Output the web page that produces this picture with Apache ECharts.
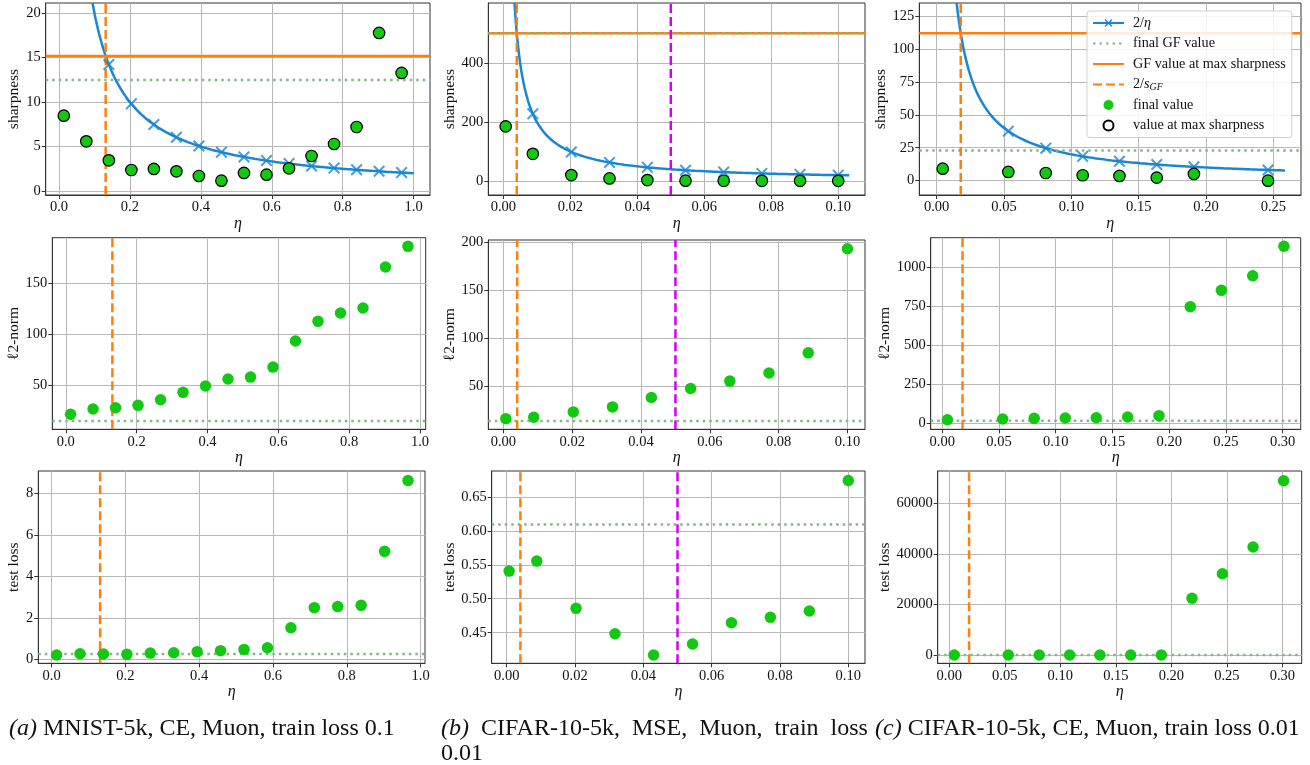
<!DOCTYPE html>
<html>
<head>
<meta charset="utf-8">
<script src="https://cdn.jsdelivr.net/npm/echarts@6/dist/echarts.min.js"></script>
<style>
  html, body { margin: 0; padding: 0; background: #fff; }
  #chart { width: 1310px; height: 765px; }
</style>
</head>
<body>
<div id="chart"></div>
<script>
// (a) MNIST-5k, CE
const etaA = [0.0135, 0.077, 0.1405, 0.204, 0.2675, 0.331, 0.3945, 0.458, 0.5215, 0.585, 0.6485, 0.712, 0.7755, 0.839, 0.9025, 0.966];
const sharpA = [8.47, 5.59, 3.45, 2.36, 2.48, 2.21, 1.69, 1.16, 2.03, 1.84, 2.55, 3.94, 5.29, 7.2, 17.78, 13.28];
const normA = [21.6, 26.8, 28.0, 30.4, 35.9, 43.1, 49.3, 56.2, 58.1, 67.9, 93.4, 112.7, 120.9, 125.8, 166, 186.2];
const testA = [0.21, 0.27, 0.26, 0.24, 0.3, 0.32, 0.37, 0.42, 0.48, 0.56, 1.52, 2.49, 2.54, 2.6, 5.2, 8.61];
const gfSharpMaxA = 15.2, gfSharpFinalA = 12.5, gfNormA = 15.0, gfTestA = 0.26;

// (b) CIFAR-10-5k, MSE
const etaB = [0.0007, 0.0088, 0.0203, 0.0317, 0.043, 0.0544, 0.0658, 0.0772, 0.0886, 0.1];
const sharpB = [185, 92.3, 20.3, 9.1, 3.4, 1.5, 1.2, 1.0, 0.8, 1.0];
const normB = [15.6, 17.1, 22.7, 27.9, 37.7, 47.2, 54.9, 63.4, 84.4, 193.3];
const testB = [0.5407, 0.5554, 0.4859, 0.4485, 0.4172, 0.4334, 0.4647, 0.4726, 0.4819, 0.6741];
const gfSharpMaxB = 500, gfSharpFinalB = 500, gfNormB = 13.2, gfTestB = 0.6094;
const etaMagentaB = 0.05;

// (c) CIFAR-10-5k, CE
const etaC = [0.0045, 0.0532, 0.081, 0.1084, 0.1357, 0.1634, 0.191, 0.2186, 0.246, 0.2736, 0.3011];
const sharpC = [9.1, 6.6, 5.8, 4.1, 3.6, 2.3, 5.1, null, 0.0, null, null];
const normC = [21, 25.7, 30, 32, 34, 38.5, 47, 747, 852, 946, 1135];
const testC = [2.1, 1.9, 2.0, 2.2, 2.3, 2.5, 2.8, 22430, 32160, 42720, 68950];
const gfSharpMaxC = 112, gfSharpFinalC = 22.8, gfNormC = 15, gfTestC = 2.0;

// tick labels
const ticksEtaA = [0, 0.2, 0.4, 0.6, 0.8, 1.0];
const ticksEtaB = [0, 0.02, 0.04, 0.06, 0.08, 0.10];
const ticksEtaCtop = [0, 0.05, 0.10, 0.15, 0.20, 0.25];
const ticksEtaC = [0, 0.05, 0.10, 0.15, 0.20, 0.25, 0.30];
const ticksSharpA = [0, 5, 10, 15, 20];
const ticksSharpB = [0, 200, 400];
const ticksSharpC = [0, 25, 50, 75, 100, 125];
const ticksNormA = [50, 100, 150];
const ticksNormB = [50, 100, 150, 200];
const ticksNormC = [0, 250, 500, 750, 1000];
const ticksTestA = [0, 2, 4, 6, 8];
const ticksTestB = [0.45, 0.50, 0.55, 0.60, 0.65];
const ticksTestC = [0, 20000, 40000, 60000];

const FONT = 'Liberation Serif';
const BLUE = '#1a86d2', ORANGE = '#ff7f0e', GREEN = '#12c812', GFGREEN = '#82b882', MAGENTA = '#d400f6';
const XMARK = 'path://M0,1.2L1.2,0L5,3.8L8.8,0L10,1.2L6.2,5L10,8.8L8.8,10L5,6.2L1.2,10L0,8.8L3.8,5Z';

const grids = [], xAxes = [], yAxes = [], series = [];

function axis(min, max, ticks, dec, extra) {
  return Object.assign({
    type: 'value', min: min, max: max,
    axisLine: { show: true, onZero: false, lineStyle: { color: '#333', width: 1 } },
    axisTick: { show: true, customValues: ticks, length: 4, lineStyle: { color: '#333' } },
    axisLabel: { customValues: ticks, formatter: v => v.toFixed(dec), fontFamily: FONT, fontSize: 14.5, color: '#111', margin: 5 },
    splitLine: { show: true, lineStyle: { color: '#b8b8b8', width: 1 } }
  }, extra);
}

function panel(box, xr, xt, xd, yr, yt, yd, yname, ynameGap, xnameGap) {
  const i = grids.length;
  grids.push({ left: box[0], top: box[1], width: box[2], height: box[3], show: true, borderColor: '#333', borderWidth: 1, backgroundColor: '#fff' });
  xAxes.push(axis(xr[0], xr[1], xt, xd, {
    gridIndex: i, name: 'η', nameLocation: 'middle', nameGap: xnameGap,
    nameTextStyle: { fontFamily: FONT, fontSize: 16, fontStyle: 'italic', color: '#111' }
  }));
  yAxes.push(axis(yr[0], yr[1], yt, yd, {
    gridIndex: i, name: yname, nameLocation: 'middle', nameGap: ynameGap, nameRotate: 90,
    nameTextStyle: { fontFamily: FONT, fontSize: 15.5, color: '#111' }
  }));
  return { i: i, xr: xr, yr: yr };
}

function base(p, name, z) {
  return { name: name, xAxisIndex: p.i, yAxisIndex: p.i, animation: false, silent: true, z: z };
}

function hline(p, y, name, color, dash) {
  series.push(Object.assign(base(p, name, 3), {
    type: 'line', symbol: 'none', data: [[p.xr[0], y], [p.xr[1], y]],
    lineStyle: { color: color, width: 2.5, type: dash, cap: 'butt' }, itemStyle: { color: color }
  }));
}

function vline(p, x, name, color) {
  series.push(Object.assign(base(p, name, 4), {
    type: 'line', symbol: 'none', data: [[x, p.yr[0]], [x, p.yr[1]]],
    lineStyle: { color: color, width: 2.5, type: [9, 4], cap: 'butt' }, itemStyle: { color: color }
  }));
}

function dots(p, eta, vals, edge) {
  const pts = [];
  eta.forEach((e, k) => { if (vals[k] !== null) pts.push([e, vals[k]]); });
  series.push(Object.assign(base(p, 'final value', 6), {
    type: 'scatter', symbol: 'circle', symbolSize: 11.5, data: pts, itemStyle: { color: GREEN, opacity: 1 }
  }));
  if (edge) {
    series.push(Object.assign(base(p, 'value at max sharpness', 7), {
      type: 'scatter', symbol: 'circle', symbolSize: 11.5, data: pts,
      itemStyle: { color: 'rgba(0,0,0,0)', borderColor: '#000', borderWidth: 1.2, opacity: 1 }
    }));
  }
}

// 2/eta reference curve and its markers at the run step sizes
function twoOverEta(p, eta, vals, xEnd) {
  const x0 = 2 / p.yr[1];
  const pts = [];
  for (let k = 0; k <= 300; k++) {
    const x = x0 + (xEnd - x0) * k / 300;
    pts.push([x, 2 / x]);
  }
  series.push(Object.assign(base(p, '2/η', 2), {
    type: 'line', data: pts, showSymbol: false, symbol: XMARK, symbolSize: 9,
    lineStyle: { color: BLUE, width: 2.5 }, itemStyle: { color: BLUE }
  }));
  const marks = [];
  eta.forEach((e, k) => { if (vals[k] !== null) marks.push([e, 2 / e]); });
  series.push(Object.assign(base(p, '2/η marks', 5), {
    type: 'scatter', symbol: XMARK, symbolSize: 12, data: marks, itemStyle: { color: BLUE }
  }));
}

// top row: sharpness
let p = panel([45.7, 3, 384.3, 192], [-0.0375, 1.046], ticksEtaA, 1, [-0.45, 21.15], ticksSharpA, 0, 'sharpness', 23, 19);
twoOverEta(p, etaA, sharpA, 1.0);
hline(p, gfSharpFinalA, 'final GF value', GFGREEN, [2.5, 4]);
hline(p, gfSharpMaxA, 'GF value at max sharpness', ORANGE, 'solid');
vline(p, 2 / gfSharpMaxA, '2/s_GF', ORANGE);
dots(p, etaA, sharpA, true);

p = panel([488.3, 3, 376.7, 192], [-0.0045, 0.108], ticksEtaB, 2, [-47, 602], ticksSharpB, 0, 'sharpness', 27, 19);
twoOverEta(p, etaB, sharpB, 0.1033);
hline(p, gfSharpMaxB, 'GF value at max sharpness', ORANGE, 'solid');
hline(p, gfSharpFinalB, 'final GF value', GFGREEN, [2.5, 4]);
vline(p, 2 / gfSharpMaxB, '2/s_GF', ORANGE);
vline(p, etaMagentaB, 'η magenta', MAGENTA);
dots(p, etaB, sharpB, true);

p = panel([919.3, 3, 381.7, 192], [-0.0129, 0.2705], ticksEtaCtop, 2, [-10.9, 134.9], ticksSharpC, 0, 'sharpness', 27, 19);
twoOverEta(p, etaC, sharpC, 0.2586);
hline(p, gfSharpFinalC, 'final GF value', GFGREEN, [2.5, 4]);
hline(p, gfSharpMaxC, 'GF value at max sharpness', ORANGE, 'solid');
vline(p, 2 / gfSharpMaxC, '2/s_GF', ORANGE);
dots(p, etaC, sharpC, true);

// middle row: l2-norm
p = panel([52.3, 237.7, 373.4, 191.6], [-0.038, 1.016], ticksEtaA, 1, [6.9, 194.7], ticksNormA, 0, 'ℓ2-norm', 30, 17);
hline(p, gfNormA, 'final GF value', GFGREEN, [2.5, 4]);
vline(p, 2 / gfSharpMaxA, '2/s_GF', ORANGE);
dots(p, etaA, normA, false);

p = panel([488.3, 240, 376.7, 189.3], [-0.0044, 0.1051], ticksEtaB, 2, [4.5, 202.4], ticksNormB, 0, 'ℓ2-norm', 27, 17);
hline(p, gfNormB, 'final GF value', GFGREEN, [2.5, 4]);
vline(p, 2 / gfSharpMaxB, '2/s_GF', ORANGE);
vline(p, etaMagentaB, 'η magenta', MAGENTA);
dots(p, etaB, normB, false);

p = panel([930.7, 237.7, 370, 191.6], [-0.0102, 0.3159], ticksEtaC, 2, [-40.5, 1190], ticksNormC, 0, 'ℓ2-norm', 34, 17);
hline(p, gfNormC, 'final GF value', GFGREEN, [2.5, 4]);
vline(p, 2 / gfSharpMaxC, '2/s_GF', ORANGE);
dots(p, etaC, normC, false);

// bottom row: test loss
p = panel([38.3, 471, 386.7, 192.3], [-0.036, 1.012], ticksEtaA, 1, [-0.19, 9.07], ticksTestA, 0, 'test loss', 16, 20);
hline(p, gfTestA, 'final GF value', GFGREEN, [2.5, 4]);
vline(p, 2 / gfSharpMaxA, '2/s_GF', ORANGE);
dots(p, etaA, testA, false);

p = panel([491.7, 471, 373.3, 192.3], [-0.0044, 0.1049], ticksEtaB, 2, [0.405, 0.688], ticksTestB, 2, 'test loss', 34, 20);
hline(p, gfTestB, 'final GF value', GFGREEN, [2.5, 4]);
vline(p, 2 / gfSharpMaxB, '2/s_GF', ORANGE);
vline(p, etaMagentaB, 'η magenta', MAGENTA);
dots(p, etaB, testB, false);

p = panel([937.7, 471, 364, 192.3], [-0.0104, 0.3174], ticksEtaC, 2, [-3283, 72786], ticksTestC, 0, 'test loss', 42, 20);
hline(p, gfTestC, 'final GF value', GFGREEN, [2.5, 4]);
vline(p, 2 / gfSharpMaxC, '2/s_GF', ORANGE);
dots(p, etaC, testC, false);

const capStyle = { fontFamily: FONT, fontSize: 24, fill: '#111', rich: { i: { fontFamily: FONT, fontSize: 24, fontStyle: 'italic' } } };
const noMark = { opacity: 0 };

const option = {
  backgroundColor: '#fff',
  animation: false,
  grid: grids,
  xAxis: xAxes,
  yAxis: yAxes,
  series: series,
  legend: {
    orient: 'vertical', left: 1087, top: 11, selectedMode: false,
    itemWidth: 31, itemHeight: 10, itemGap: 4.5,
    padding: [4, 6, 4, 5],
    backgroundColor: 'rgba(255,255,255,0.85)', borderColor: '#d0d0d0', borderWidth: 1, borderRadius: 3,
    data: [
      { name: '2/η' },
      { name: 'final GF value', itemStyle: noMark },
      { name: 'GF value at max sharpness', itemStyle: noMark },
      { name: '2/s_GF', itemStyle: noMark },
      { name: 'final value', icon: 'circle' },
      { name: 'value at max sharpness', icon: 'circle' }
    ],
    formatter: function (n) {
      if (n === '2/η') return '2/{i|η}';
      if (n === '2/s_GF') return '2/{i|s}{sub|GF}';
      return n;
    },
    textStyle: {
      fontFamily: FONT, fontSize: 14.2, color: '#111', lineHeight: 16, padding: [0, 0, 0, 4],
      rich: {
        i: { fontFamily: FONT, fontSize: 14.2, fontStyle: 'italic', lineHeight: 16 },
        sub: { fontFamily: FONT, fontSize: 10, fontStyle: 'italic', lineHeight: 16, verticalAlign: 'bottom', padding: [5, 0, 0, 0] }
      }
    }
  },
  graphic: [
    { type: 'text', left: 9, top: 717, style: Object.assign({ text: '{i|(a)} MNIST-5k, CE, Muon, train loss 0.1' }, capStyle) },
    { type: 'text', left: 441, top: 717, style: Object.assign({ text: '{i|(b)}  CIFAR-10-5k,  MSE,  Muon,  train  loss' }, capStyle) },
    { type: 'text', left: 441, top: 742, style: Object.assign({ text: '0.01' }, capStyle) },
    { type: 'text', left: 875, top: 717, style: Object.assign({ text: '{i|(c)} CIFAR-10-5k, CE, Muon, train loss 0.01' }, capStyle) }
  ]
};

const chart = echarts.init(document.getElementById('chart'), null, { renderer: 'canvas' });
chart.setOption(option);
</script>
</body>
</html>
